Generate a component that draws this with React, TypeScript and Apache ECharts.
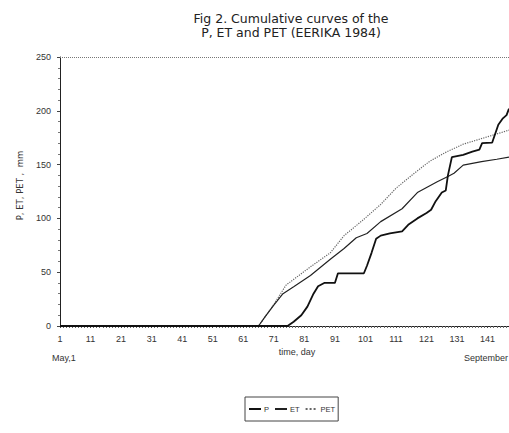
import React, { useEffect, useRef } from "react";
import * as echarts from "echarts";

const titleLines = ["Fig 2. Cumulative curves of the", "P, ET and PET (EERIKA 1984)"];
const seriesNames = ["P", "ET", "PET"];

// [day, cumulative mm]
const pData: [number, number][] = [
  [1, 0], [75.5, 0], [77.5, 4], [80, 10], [82, 18], [84, 30], [85.5, 37], [87.5, 40],
  [91, 40], [92, 49], [100.5, 49], [101.5, 56], [103, 68], [104.5, 81], [106, 84],
  [109, 86], [113, 88], [115, 94], [118, 100], [121, 105], [122.5, 108], [124, 116],
  [126, 124], [127.3, 126], [128, 140], [129.3, 157], [133, 159], [136, 162],
  [138.3, 164], [139.2, 170], [142.5, 170.5], [144.5, 187], [146, 193], [147.2, 196],
  [148, 202],
];
const etData: [number, number][] = [
  [1, 0], [66, 0], [68, 8], [71, 19.5], [74, 30], [77.5, 36.5], [83, 47], [89.5, 62],
  [94, 72], [98, 82], [101.5, 86], [106, 97], [113, 109], [118, 124], [124.5, 134],
  [128, 139], [130, 142], [133, 149.5], [139, 152.7], [144, 155], [148, 157],
];
const petData: [number, number][] = [
  [1, 0], [66, 0], [71, 20], [75, 38], [83, 55], [89.5, 68], [94, 84], [100, 98],
  [106, 113], [111, 128], [117, 142], [122, 153], [127, 161], [133, 169], [140, 175],
  [148, 182],
];
const xTickStart = 1;
const xTickStep = 10;
const xMax = 148;
const yMax = 250;
const yStep = 50;
const xAxisName = "time, day";
const yAxisName = "P, ET, PET ,  mm";
const startLabel = "May,1";
const endLabel = "September";

export default function App() {
  const ref = useRef<HTMLDivElement>(null);
  useEffect(() => {
    if (!ref.current) return;
    const chart = echarts.init(ref.current, null, { renderer: "svg" });
    const font = "Liberation Sans, Arial, sans-serif";
    const wide = "DejaVu Sans, sans-serif";
    chart.setOption({
      animation: false,
      textStyle: { fontFamily: font },
      title: {
        text: titleLines.join("\n"),
        left: 286,
        textAlign: "center",
        top: 6,
        textStyle: { fontSize: 12.5, fontWeight: "normal", color: "#222", lineHeight: 14, fontFamily: wide },
      },
      grid: { left: 60, right: 0, top: 57, bottom: 107, containLabel: false },
      legend: {
        data: seriesNames,
        left: 245,
        top: 397,
        orient: "horizontal",
        borderColor: "#444",
        borderWidth: 1,
        padding: [8, 3, 8, 3],
        itemWidth: 12,
        itemHeight: 8,
        itemGap: 5,
        itemStyle: { opacity: 0 },
        textStyle: { fontSize: 7.5, color: "#333", fontFamily: font, padding: [0, 0, 0, -2] },
      },
      xAxis: {
        type: "value",
        min: xTickStart,
        max: xMax,
        interval: xTickStep,
        name: xAxisName,
        nameLocation: "middle",
        nameGap: 19,
        nameTextStyle: { fontSize: 9, color: "#333", padding: [0, 0, 0, 25] },
        axisLine: { show: true, lineStyle: { color: "#222", width: 1 } },
        axisTick: { show: true, length: 2, lineStyle: { color: "#444" } },
        minorTick: { show: true, splitNumber: 10, length: 2, lineStyle: { color: "#666" } },
        axisLabel: { fontSize: 9, color: "#333", margin: 8, showMaxLabel: false },
        splitLine: { show: false },
      },
      yAxis: {
        type: "value",
        min: 0,
        max: yMax,
        interval: yStep,
        name: yAxisName,
        nameLocation: "middle",
        nameGap: 36,
        nameTextStyle: { fontSize: 8.5, color: "#333", padding: [0, 0, 0, 12], fontFamily: wide },
        axisLine: { show: true, lineStyle: { color: "#222", width: 1 } },
        axisTick: { show: true, length: 3, lineStyle: { color: "#444" } },
        minorTick: { show: true, splitNumber: 5, length: 2, lineStyle: { color: "#777" } },
        axisLabel: { fontSize: 9, color: "#333", margin: 9 },
        splitLine: { show: false },
      },
      graphic: [
        { type: "text", left: 52, top: 353, style: { text: startLabel, fontSize: 9, fill: "#333", fontFamily: font } },
        { type: "text", right: 1, top: 353, style: { text: endLabel, fontSize: 9, fill: "#333", fontFamily: font } },
      ],
      series: [
        {
          name: "P",
          type: "line",
          data: pData,
          symbol: "none",
          lineStyle: { color: "#111", width: 1.8 },
          itemStyle: { color: "#111" },
          z: 3,
          markLine: {
            silent: true,
            symbol: "none",
            label: { show: false },
            lineStyle: { color: "#777", type: "dotted", width: 1 },
            data: [{ yAxis: yMax }],
          },
        },
        {
          name: "ET",
          type: "line",
          data: etData,
          symbol: "none",
          lineStyle: { color: "#222", width: 1.2 },
          itemStyle: { color: "#222" },
          z: 2,
        },
        {
          name: "PET",
          type: "line",
          data: petData,
          symbol: "none",
          lineStyle: { color: "#666", width: 1.2, type: "dotted" },
          itemStyle: { color: "#666" },
          z: 1,
        },
      ],
    });
    return () => chart.dispose();
  }, []);
  return <div ref={ref} style={{ position: "absolute", left: 0, top: 0, width: 509, height: 433 }} />;
}
